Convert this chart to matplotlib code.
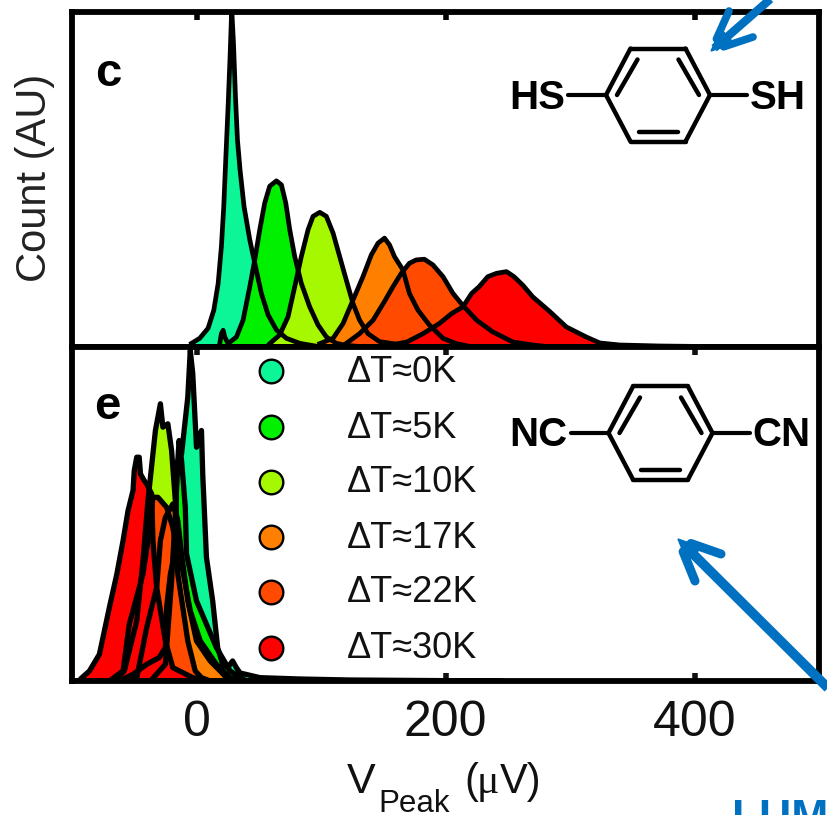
import matplotlib
matplotlib.use("Agg")
import matplotlib.pyplot as plt
from matplotlib.lines import Line2D
from matplotlib.patches import Polygon

W, H = 827, 815
plt.rcParams["font.family"] = "Liberation Sans"

labels = ["ΔT≈0K", "ΔT≈5K", "ΔT≈10K", "ΔT≈17K", "ΔT≈22K", "ΔT≈30K"]
colors = ["#0CF596", "#00F000", "#A6F800", "#FF8000", "#FF4A00", "#FF0000"]
xticks = [0, 200, 400]

# Panel c: (V_peak in uV, count)
c0_x = [-4, 2.6, 9.3, 13.9, 17.4, 20, 21.9, 23.5, 25.4, 27, 28.3, 29.7, 31.3, 32.9, 35, 38.2, 42.8, 46.8, 52.1, 57.5, 64.2, 72.2, 82.9, 100]
c0_y = [1.1, 2.6, 5.6, 11, 19, 30, 42, 56, 72, 87, 101, 90.7, 74.7, 61.8, 52.8, 41.9, 32, 25, 16, 9.6, 5.1, 2.6, 1.1, 0]
c1_x = [18.2, 20, 21.4, 22.7, 25.4, 32.1, 37.4, 42.8, 46.8, 50.8, 54.8, 58.8, 64.2, 68.2, 71.7, 74.9, 78.9, 84.2, 90.9, 97.6, 104.3, 112.3, 120, 135]
c1_y = [0, 4, 5, 3, 1, 3, 8, 18, 26, 35, 43, 48, 49.6, 48.4, 43, 35, 27, 19, 12, 6.6, 3, 1.1, 0.5, 0]
c2_x = [58.8, 66.8, 73.5, 78.9, 84.2, 89.6, 93.6, 99, 104.3, 109.7, 115, 120.3, 125.7, 131, 137.7, 147, 157.8, 172]
c2_y = [1, 3.6, 9, 18, 27, 35, 39, 40.2, 39, 34, 27, 20, 13, 8, 4, 1.6, 1, 0]
c3_x = [99, 109.7, 117.7, 125.7, 133.7, 140.4, 145.8, 151, 155, 159, 165.8, 171, 177.9, 187, 198, 208.6, 222]
c3_y = [1, 2.6, 7, 14, 21, 27.5, 31, 32.5, 30.5, 27, 23, 16, 11, 6.6, 2.6, 1, 0]
c4_x = [120, 131, 141.8, 151, 157.8, 164.5, 171, 176.5, 183, 189.9, 198, 206, 213.7, 225, 238, 254, 270, 285]
c4_y = [1, 4, 8, 13.6, 18, 22, 25, 26, 26.2, 24.5, 21, 16, 12.5, 8, 4.5, 1.5, 0.6, 0]
c5_x = [147, 169, 182, 195, 205, 214, 221, 227, 234, 241, 249, 255, 262, 270, 284, 297, 313, 324, 340, 372, 444]
c5_y = [0, 1.5, 4, 7, 10, 12, 16, 18, 21, 22, 22.5, 21, 18.5, 15, 10.5, 6, 3, 1.2, 0.6, 0.3, 0]

# Panel e
e0_x = [-37, -25, -20, -17, -15, -12, -7, -5, -3, 0, 2, 4, 5, 8, 13, 17, 21, 25, 29, 32, 35, 51, 83, 123, 244]
e0_y = [0, 5, 30, 50, 66, 68, 85, 99, 92, 70, 72, 75, 62, 37, 24, 10, 5, 4, 6, 4, 2.4, 1, 0.6, 0.3, 0]
e1_x = [-62, -51, -40, -30, -25, -24, -21, -17, -16, -14, -12, -9, -8, 0, 16, 27, 40]
e1_y = [0, 2, 5, 7, 10, 22, 32, 39, 60, 72, 66, 52, 38, 24, 10, 3, 0]
e2_x = [-66, -58, -48, -43, -39, -37, -33, -29, -27, -23, -20, -17, -15, -11, -5, 3, 16, 27, 40]
e2_y = [0, 3, 18, 36, 54, 61, 75, 83, 76, 77, 69, 54, 45, 33, 21, 12, 5, 1, 0]
e3_x = [-62, -48, -40, -32, -29, -25, -19, -15, -12, -7, 0, 11, 19, 24, 31]
e3_y = [0, 1, 16, 28, 42, 49, 53, 48, 38, 24, 12, 6, 3, 1, 0]
e4_x = [-70, -59, -54, -43, -39, -35, -31, -24, -19, -16, -15, -7, -1, 4, 11]
e4_y = [0, 3, 17, 32, 42, 55, 55, 52, 46, 39, 32, 12, 3, 1, 0]
e5_x = [-92, -86, -78, -70, -64, -59, -55, -51, -50, -48, -46, -45, -42, -40, -36, -35, -32, -25, -19, -3, 11]
e5_y = [1, 3, 8, 22, 32, 42, 51, 57, 63, 67, 67, 62, 60, 59, 56, 42, 28, 12, 4, 1, 0]

panel_c = [(c0_x, c0_y), (c1_x, c1_y), (c2_x, c2_y), (c3_x, c3_y), (c4_x, c4_y), (c5_x, c5_y)]
panel_e = [(e0_x, e0_y), (e1_x, e1_y), (e2_x, e2_y), (e3_x, e3_y), (e4_x, e4_y), (e5_x, e5_y)]

fig = plt.figure(figsize=(W / 100, H / 100), dpi=100, facecolor="white")


def fx(x):
    return x / W


def fy(y):
    return 1 - y / H


def make_axes(top, bottom):
    ax = fig.add_axes([fx(72), fy(bottom), fx(819) - fx(72), fy(top) - fy(bottom)])
    ax.set_xlim(-100, 500)
    ax.set_ylim(0, 100)
    ax.set_yticks([])
    ax.set_xticks(xticks)
    for s in ax.spines.values():
        s.set_linewidth(4.2)
    return ax


def draw_panel(ax, curves, lw):
    for (x, y), col in zip(curves, colors):
        ax.fill_between(x, 0, y, color=col, lw=0, zorder=2)
    for (x, y) in curves:
        ax.plot(x, y, color="black", lw=lw, solid_joinstyle="round", zorder=3)


ax_c = make_axes(12, 347)
ax_e = make_axes(347, 681)
draw_panel(ax_c, panel_c, 3.4)
draw_panel(ax_e, panel_e, 3.8)
ax_e.plot([-100, 240], [0, 0], color="black", lw=4, zorder=3)

ax_c.tick_params(axis="x", which="both", direction="in", top=True, bottom=False,
                 labelbottom=False, length=6, width=4)
ax_e.tick_params(axis="x", which="both", direction="in", top=True, bottom=True,
                 length=6, width=4, labelsize=36, pad=14, colors="#111111")

fig.text(fx(35), fy(178), "Count (AU)", rotation=90, ha="center", va="center",
         fontsize=30, color="#222222")
fig.text(fx(347), fy(793), "V", fontsize=31, ha="left", va="baseline", color="#111111")
fig.text(fx(378), fy(812), "Peak", fontsize=22.5, ha="left", va="baseline", color="#111111")
fig.text(fx(464), fy(793), "(", fontsize=30, ha="left", va="baseline", color="#111111")
fig.text(fx(477), fy(793), "μ", fontsize=30, ha="left", va="baseline", color="#111111",
         family="Liberation Serif")
fig.text(fx(500), fy(793), "V)", fontsize=30, ha="left", va="baseline", color="#111111")

fig.text(fx(95), fy(86), "c", fontsize=34, fontweight="bold", ha="left", va="baseline")
fig.text(fx(94), fy(419), "e", fontsize=34, fontweight="bold", ha="left", va="baseline")

# Legend
legend_y = [371, 427, 482, 537, 592, 648]
for lab, col, y in zip(labels, colors, legend_y):
    fig.add_artist(Line2D([fx(271)], [fy(y)], marker="o", ms=17, mfc=col, mec="black",
                          mew=1.7, ls="none", transform=fig.transFigure))
    fig.text(fx(347), fy(y + 1), lab, fontsize=26, ha="left", va="center", color="#111111")


def seg(x0, y0, x1, y1, lw, color="black", cap="round"):
    fig.add_artist(Line2D([fx(x0), fx(x1)], [fy(y0), fy(y1)], lw=lw, color=color,
                          solid_capstyle=cap, transform=fig.transFigure, zorder=6))


def molecule(cx, cy, left, right, y_text):
    l, r = cx - 52, cx + 52
    a, b = cx - 27.5, cx + 27.5
    t, bt = cy - 46.5, cy + 46.5
    pts = [(l, cy), (a, t), (b, t), (r, cy), (b, bt), (a, bt), (l, cy)]
    for (x0, y0), (x1, y1) in zip(pts[:-1], pts[1:]):
        seg(x0, y0, x1, y1, 3.2)
    seg(a + 7, t + 11, l + 11, cy, 3.2)
    seg(b - 7, t + 11, r - 11, cy, 3.2)
    seg(a + 8, bt - 10, b - 8, bt - 10, 3.2)
    seg(l - 38, cy, l, cy, 3.0)
    seg(r, cy, r + 37, cy, 3.0)
    fig.text(fx(l - 41), fy(y_text), left, fontsize=29, fontweight="bold", ha="right", va="center")
    fig.text(fx(r + 40), fy(y_text), right, fontsize=29, fontweight="bold", ha="left", va="center")


molecule(658, 95, "HS", "SH", 98)
molecule(660.5, 433, "NC", "CN", 435)

# Blue arrows
BLUE = "#0070C0"


def arrow(tip, b1, b2, tail, width=7.0):
    seg(tip[0] + (tail[0] - tip[0]) * 0.05, tip[1] + (tail[1] - tip[1]) * 0.05, tail[0], tail[1],
        width, BLUE, "butt")
    seg(tip[0] + (b1[0] - tip[0]) * 0.3, tip[1] + (b1[1] - tip[1]) * 0.3, b1[0], b1[1], width - 0.5, BLUE)
    seg(tip[0] + (b2[0] - tip[0]) * 0.3, tip[1] + (b2[1] - tip[1]) * 0.3, b2[0], b2[1], width - 0.5, BLUE)
    m = (tip[0] + (b1[0] - tip[0]) * 0.55, tip[1] + (b1[1] - tip[1]) * 0.55)
    n = (tip[0] + (b2[0] - tip[0]) * 0.55, tip[1] + (b2[1] - tip[1]) * 0.55)
    fig.add_artist(Polygon([(fx(tip[0]), fy(tip[1])), (fx(m[0]), fy(m[1])), (fx(n[0]), fy(n[1]))],
                           closed=True, fc=BLUE, ec=BLUE, lw=1, transform=fig.transFigure, zorder=6))


arrow((711, 51), (729, 11), (753, 37), (775, -5), 6.0)
arrow((678, 539), (721, 554), (695, 581), (835, 695))

fig.text(fx(732), fy(799), "LUM", fontsize=32, fontweight="bold", color=BLUE, ha="left", va="top")

fig.savefig("out.png", dpi=100, facecolor="white")
